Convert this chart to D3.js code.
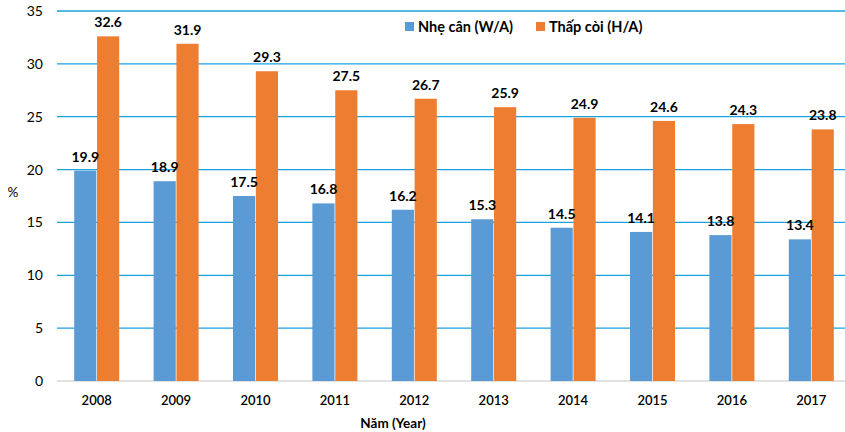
<!DOCTYPE html>
<html><head><meta charset="utf-8">
<script src="https://cdn.jsdelivr.net/npm/d3@7"></script>
<style>body{margin:0;background:#fff}svg{display:block}text{font-family:Lato,"Open Sans",sans-serif;fill:#000}</style>
</head><body><svg id="c" width="845" height="432"></svg>
<script>
const years = ["2008","2009","2010","2011","2012","2013","2014","2015","2016","2017"];
const series = ["Nhẹ cân (W/A)","Thấp còi (H/A)"];
const wa = [19.9,18.9,17.5,16.8,16.2,15.3,14.5,14.1,13.8,13.4];
const ha = [32.6,31.9,29.3,27.5,26.7,25.9,24.9,24.6,24.3,23.8];
const yTicks = [0,5,10,15,20,25,30,35];
const colors = ["#5B9BD5","#ED7D31"];
const values = [wa, ha];

const svg = d3.select("#c");
const x0 = d3.scaleBand().domain(years).range([57,851]).paddingInner(0.433).paddingOuter(0.2165);
const x1 = d3.scaleBand().domain(series).range([0,x0.bandwidth()]).paddingInner(0.03);
const y = d3.scaleLinear().domain([0,35]).range([381,11]);

// gridlines
svg.append("g").selectAll("line").data(yTicks.filter(d=>d>0)).join("line")
  .attr("x1",57).attr("x2",851).attr("y1",d=>y(d)).attr("y2",d=>y(d))
  .attr("stroke","#1AA3E0").attr("stroke-width",1.3);
svg.append("line").attr("x1",57).attr("x2",851).attr("y1",y(0)).attr("y2",y(0))
  .attr("stroke","#D9D9D9").attr("stroke-width",1.3);

// y tick labels
svg.append("g").selectAll("text").data(yTicks).join("text")
  .attr("x",43).attr("y",d=>y(d)+5).attr("text-anchor","end")
  .attr("font-size",14).text(d=>d);

// bars
series.forEach((s,i)=>{
  svg.append("g").selectAll("rect").data(years).join("rect")
    .attr("x",d=>x0(d)+x1(s)).attr("width",x1.bandwidth())
    .attr("y",(d,j)=>y(values[i][j])).attr("height",(d,j)=>y(0)-y(values[i][j]))
    .attr("fill",colors[i]);
});
// value labels (drawn above all bars)
series.forEach((s,i)=>{
  svg.append("g").selectAll("text").data(years).join("text")
    .attr("x",d=>x0(d)+x1(s)+x1.bandwidth()/2)
    .attr("y",(d,j)=>y(values[i][j])-9)
    .attr("text-anchor","middle").attr("font-size",14).attr("font-weight","bold")
    .text((d,j)=>values[i][j].toFixed(1));
});

// x tick labels
svg.append("g").selectAll("text").data(years).join("text")
  .attr("x",d=>x0(d)+x0.bandwidth()/2).attr("y",405).attr("text-anchor","middle")
  .attr("font-size",13).attr("font-weight","600").text(d=>d);

// axis titles
svg.append("text").attr("x",393).attr("y",428).attr("text-anchor","middle")
  .attr("font-size",13.5).attr("font-weight","bold").text("Năm (Year)");
svg.append("text").attr("x",13).attr("y",197).attr("text-anchor","middle")
  .attr("font-size",13.5).text("%");

// legend
const lg = svg.append("g");
const lx = [405,536];
series.forEach((s,i)=>{
  lg.append("rect").attr("x",lx[i]).attr("y",22).attr("width",9).attr("height",9).attr("fill",colors[i]);
  lg.append("text").attr("x",lx[i]+13).attr("y",32).attr("font-size",14.5).attr("font-weight","bold").text(s);
});
</script></body></html>
